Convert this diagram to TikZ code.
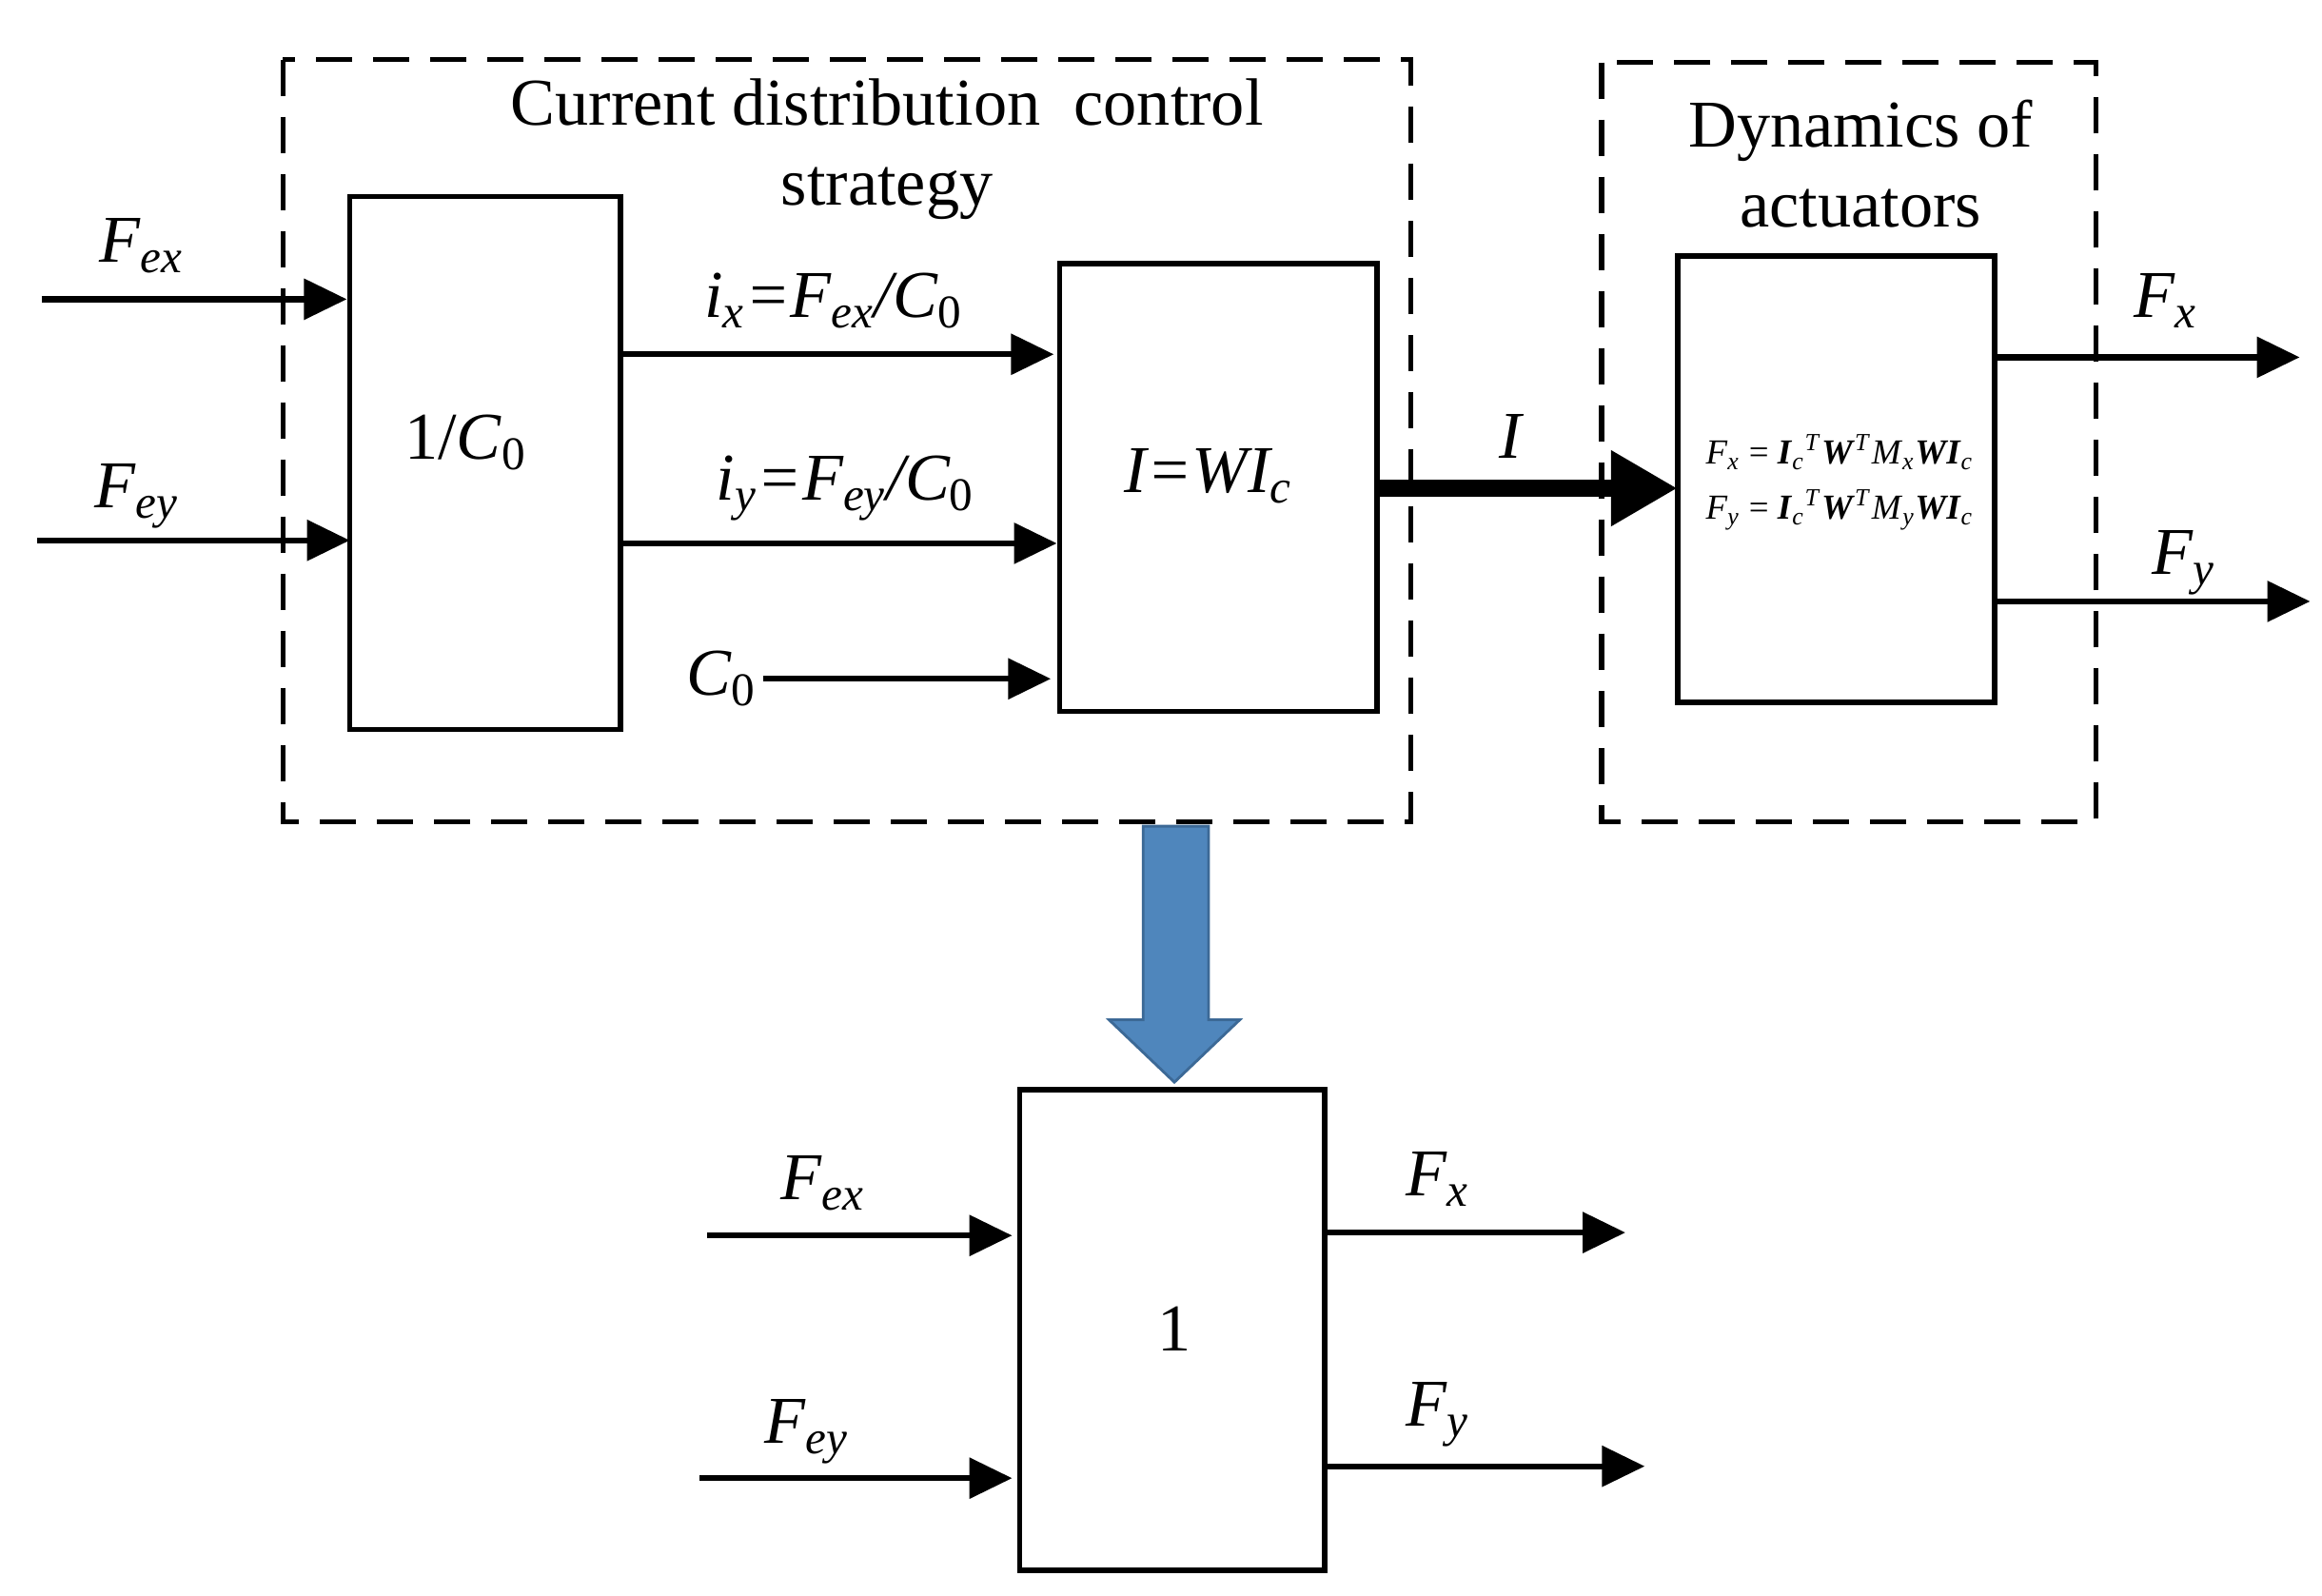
\documentclass[tikz,border=0pt]{standalone}
\usepackage{fontspec}
\setmainfont{Liberation Serif}
\usetikzlibrary{arrows.meta}
\definecolor{blueA}{RGB}{79,134,188}
\definecolor{blueB}{RGB}{60,105,150}
\newcommand{\sbs}[1]{\textsubscript{#1}}
\newcommand{\zr}{\textsubscript{\upshape 0}}
\begin{document}
\begin{tikzpicture}[x=0.01564cm,y=-0.01564cm,
  box/.style={draw,line width=1.6pt},
  dbox/.style={draw,line width=1.5pt,dash pattern=on 0.38cm off 0.22cm},
  arr/.style={line width=1.8pt,-{Triangle[length=0.45cm,width=0.42cm]}},
  lab/.style={font=\fontsize{20}{24}\selectfont\itshape,inner sep=0pt},
  txt/.style={font=\fontsize{20}{24}\selectfont,align=center,inner sep=0pt}]
\useasboundingbox (0,0) rectangle (1560,1072);
\draw[dbox] (190,40) rectangle (948,552);
\draw[dbox] (1076,42) rectangle (1408,552);
\node[box,minimum width=182*0.01564cm,minimum height=358*0.01564cm] (inv) at (326,311) {};
\node[txt] at (313,297) {1/\textit{C}\zr};
\node[box,minimum width=213*0.01564cm,minimum height=301*0.01564cm] (w) at (818.5,327.5) {};
\node[lab] at (812,320) {I=WI\sbs{c}};
\node[box,minimum width=213*0.01564cm,minimum height=300*0.01564cm] (dyn) at (1233.5,322) {};
\node[box,minimum width=205*0.01564cm,minimum height=323*0.01564cm] (one) at (787.5,893.5) {};
\node[txt] at (789,893) {1};
\node[txt] at (596,100) {Current distribution\ \ control\\strategy};
\node[txt] at (1250,110) {Dynamics of\\actuators};
\node[font=\fontsize{10.5}{14.5}\selectfont,align=left,inner sep=0pt] at (1236,324)
 {\textit{F}\sbs{\textit{x}} = \textbf{\textit{I}}\sbs{\textit{c}}\textsuperscript{\textit{T}}\textbf{\textit{W}}\textsuperscript{\textit{T}}\textit{M}\sbs{\textit{x}}\textbf{\textit{WI}}\sbs{\textit{c}}\\[2pt]
  \textit{F}\sbs{\textit{y}} = \textbf{\textit{I}}\sbs{\textit{c}}\textsuperscript{\textit{T}}\textbf{\textit{W}}\textsuperscript{\textit{T}}\textit{M}\sbs{\textit{y}}\textbf{\textit{WI}}\sbs{\textit{c}}};
% inputs top
\coordinate (a1) at (28,201); \coordinate (a1e) at (233,201);
\coordinate (a2) at (25,363); \coordinate (a2e) at (235,363);
\draw[arr] (a1) -- (a1e); \draw[arr] (a2) -- (a2e);
\node[lab] at (95,165) {F\sbs{ex}};
\node[lab] at (92,333) {F\sbs{ey}};
\coordinate (b1) at (419,238); \coordinate (b1e) at (708,238);
\coordinate (b2) at (419,365); \coordinate (b2e) at (710,365);
\coordinate (b3) at (513,456); \coordinate (b3e) at (706,456);
\draw[arr] (b1) -- (b1e); \draw[arr] (b2) -- (b2e); \draw[arr] (b3) -- (b3e);
\node[lab] at (560,202) {i\sbs{x}=F\sbs{ex}/C\zr};
\node[lab] at (568,328) {i\sbs{y}=F\sbs{ey}/C\zr};
\node[lab] at (485,456) {C\zr};
\coordinate (c1) at (925,328); \coordinate (c1e) at (1127,328);
\draw[line width=5pt,-{Triangle[length=0.7cm,width=0.75cm]}] (c1) -- (c1e);
\node[lab] at (1015,293) {I};
\coordinate (d1) at (1340,240); \coordinate (d1e) at (1545,240);
\coordinate (d2) at (1340,404); \coordinate (d2e) at (1552,404);
\draw[arr] (d1) -- (d1e); \draw[arr] (d2) -- (d2e);
\node[lab] at (1455,202) {F\sbs{x}};
\node[lab] at (1467,378) {F\sbs{y}};
% blue arrow
\draw[fill=blueA,draw=blueB,line width=0.8pt] (768,555) -- (812,555) -- (812,685) -- (833,685) -- (789,727) -- (745,685) -- (768,685) -- cycle;
% bottom
\coordinate (e1) at (475,830); \coordinate (e1e) at (680,830);
\coordinate (e2) at (470,993); \coordinate (e2e) at (680,993);
\coordinate (f1) at (890,828); \coordinate (f1e) at (1092,828);
\coordinate (f2) at (890,985); \coordinate (f2e) at (1105,985);
\draw[arr] (e1) -- (e1e); \draw[arr] (e2) -- (e2e);
\draw[arr] (f1) -- (f1e); \draw[arr] (f2) -- (f2e);
\node[lab] at (553,795) {F\sbs{ex}};
\node[lab] at (542,962) {F\sbs{ey}};
\node[lab] at (966,792) {F\sbs{x}};
\node[lab] at (966,950) {F\sbs{y}};
\end{tikzpicture}
\end{document}
